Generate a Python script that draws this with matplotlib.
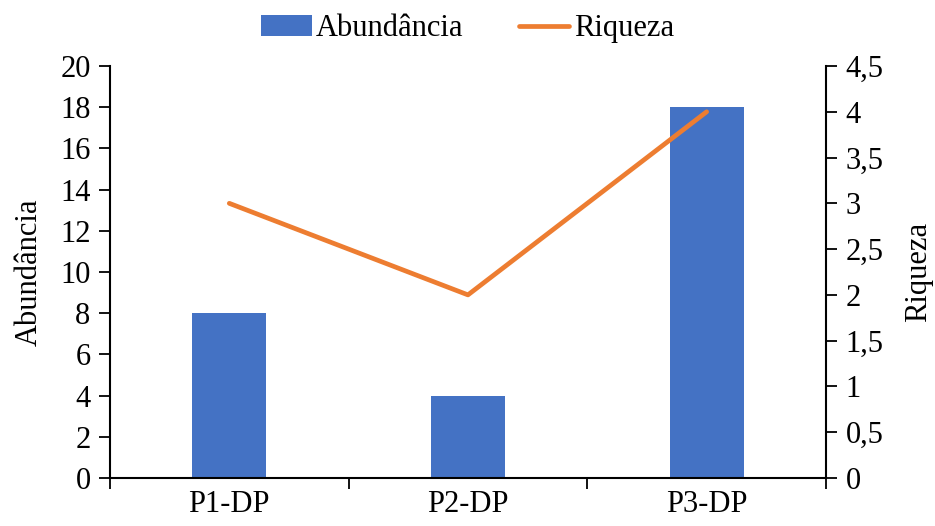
import matplotlib
matplotlib.use("Agg")
import matplotlib.pyplot as plt
from matplotlib.ticker import FixedLocator, FuncFormatter

categories = ["P1-DP", "P2-DP", "P3-DP"]
abundancia = [8, 4, 18]
riqueza = [3, 2, 4]

plt.rcParams['font.family'] = ['Liberation Serif', 'DejaVu Serif']
FS = 22

fig = plt.figure(figsize=(9.35, 5.26), dpi=100)
ax = fig.add_axes([0.1176, 0.0913, 0.8834 - 0.1176, 0.8745 - 0.0913])
ax2 = ax.twinx()

x = list(range(len(categories)))
bars = ax.bar(x, abundancia, width=0.31, color="#4472C4", label="Abundância", zorder=2)
line, = ax2.plot(x, riqueza, color="#ED7D31", lw=3.4, solid_capstyle="round", label="Riqueza", zorder=3)

ax.set_xlim(-0.5, 2.5)
ax.set_ylim(0, 20)
ax2.set_ylim(0, 4.5)
ax.set_yticks(range(0, 21, 2))
ax2.set_yticks([i * 0.5 for i in range(10)])
ax2.yaxis.set_major_formatter(FuncFormatter(lambda v, p: (f"{v:g}").replace(".", ",")))

ax.set_xticks(x)
ax.set_xticklabels(categories)
ax.xaxis.set_minor_locator(FixedLocator([-0.5, 0.5, 1.5, 2.5]))
ax.tick_params(axis="x", which="major", length=0, labelsize=FS, pad=9)
ax.tick_params(axis="x", which="minor", length=8, width=1.3, direction="out")
ax.tick_params(axis="y", length=8, width=1.3, labelsize=FS, pad=6)
ax2.tick_params(axis="y", length=8, width=1.3, labelsize=FS, pad=6)

for a in (ax, ax2):
    a.spines["top"].set_visible(False)
    for s in ("left", "right", "bottom"):
        a.spines[s].set_linewidth(1.5)
        a.spines[s].set_color("black")
ax.spines["right"].set_visible(False)
ax2.spines["left"].set_visible(False)
ax2.spines["bottom"].set_visible(False)

ax.set_ylabel("Abundância", fontsize=FS, labelpad=12)
ax2.set_ylabel("Riqueza", fontsize=FS, labelpad=15, rotation=90)

fig.legend(handles=[bars, line], labels=["Abundância", "Riqueza"], loc="upper center",
           bbox_to_anchor=(0.5, 1.025), ncol=2, frameon=False, fontsize=FS,
           handlelength=1.65, handletextpad=0.15, columnspacing=1.8)

fig.savefig("out.png", dpi=100)
